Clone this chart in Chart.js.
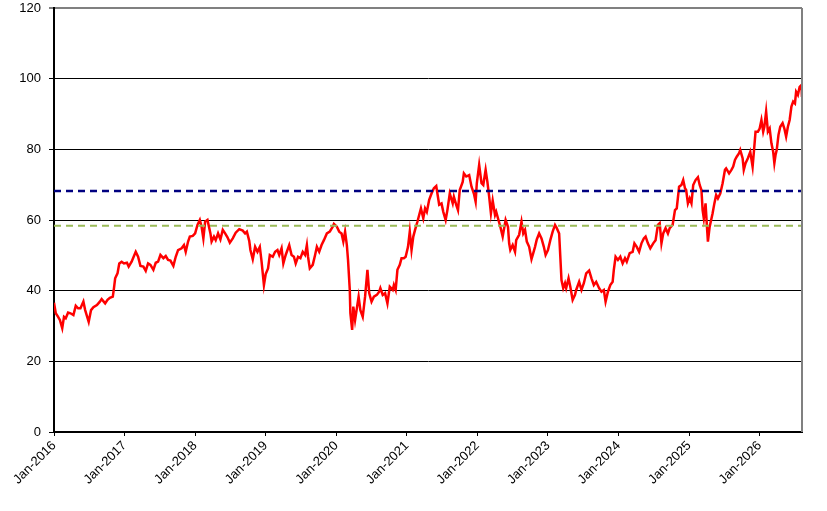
<!DOCTYPE html>
<html>
<head>
<meta charset="utf-8">
<script src="https://cdn.jsdelivr.net/npm/chart.js@4.4.1/dist/chart.umd.min.js"></script>
<style>
  html, body { margin: 0; padding: 0; background: #fff; }
  #chart { display: block; }
</style>
</head>
<body>
<canvas id="chart" width="827" height="511"></canvas>
<script>
// Meses transcurridos desde Jan-2016 (eje X) y valor de la serie
const months = [
  0.0, 0.3, 0.7, 1.0, 1.4, 1.7, 2.0, 2.4, 2.8, 3.3, 3.7, 4.1, 4.5, 5.0, 5.3, 5.9, 6.3, 6.7, 7.3, 7.8,
  8.1, 8.7, 9.1, 9.5, 10.0, 10.2, 10.4, 10.8, 11.1, 11.5, 11.9, 12.4, 12.7, 13.2, 13.6, 13.9, 14.3, 14.7, 15.2, 15.6,
  16.0, 16.4, 16.9, 17.3, 17.7, 18.1, 18.6, 19.0, 19.4, 19.8, 20.3, 20.7, 21.1, 21.7, 22.1, 22.4, 22.8, 23.1, 23.6, 24.0,
  24.4, 24.8, 25.1, 25.4, 25.7, 26.1, 26.6, 26.8, 27.2, 27.5, 27.9, 28.3, 28.7, 29.1, 29.5, 29.9, 30.4, 30.9, 31.5, 32.1,
  32.5, 32.8, 33.2, 33.4, 33.8, 34.2, 34.6, 35.0, 35.3, 35.7, 36.0, 36.4, 36.7, 37.2, 37.6, 38.0, 38.3, 38.7, 39.0, 39.4,
  40.0, 40.4, 40.8, 41.1, 41.5, 41.9, 42.3, 42.7, 43.0, 43.2, 43.5, 44.0, 44.4, 44.7, 45.1, 45.5, 45.9, 46.4, 46.9, 47.4,
  47.6, 48.1, 48.5, 48.9, 49.2, 49.5, 49.8, 50.0, 50.3, 50.4, 50.7, 50.9, 51.2, 51.5, 51.8, 52.1, 52.5, 52.9, 53.3, 53.6,
  54.0, 54.4, 54.9, 55.3, 55.5, 55.9, 56.3, 56.7, 57.1, 57.6, 57.8, 58.1, 58.4, 58.8, 59.1, 59.5, 59.8, 60.2, 60.5, 60.8,
  61.1, 61.4, 61.8, 62.1, 62.4, 62.8, 63.1, 63.4, 63.8, 64.2, 64.6, 65.0, 65.5, 65.9, 66.2, 66.6, 66.9, 67.3, 67.8, 68.0,
  68.4, 68.7, 69.0, 69.5, 69.7, 70.1, 70.6, 71.0, 71.4, 71.7, 71.9, 72.3, 72.7, 73.0, 73.4, 73.7, 74.0, 74.3, 74.6, 75.0,
  75.2, 75.5, 75.9, 76.3, 76.5, 76.8, 77.2, 77.4, 77.6, 78.0, 78.4, 78.6, 79.1, 79.5, 79.8, 80.1, 80.4, 80.8, 81.2, 81.5,
  81.8, 82.1, 82.5, 82.9, 83.3, 83.6, 84.0, 84.4, 84.8, 85.2, 85.5, 85.9, 86.1, 86.3, 86.6, 86.9, 87.1, 87.5, 87.8, 88.2,
  88.6, 88.8, 89.3, 89.7, 90.1, 90.5, 91.0, 91.4, 91.8, 92.2, 92.7, 93.1, 93.5, 93.8, 94.2, 94.6, 95.0, 95.2, 95.5, 95.9,
  96.3, 96.7, 97.1, 97.4, 97.9, 98.4, 98.7, 99.1, 99.5, 99.9, 100.3, 100.6, 101.0, 101.4, 101.9, 102.3, 102.7, 103.0, 103.3, 103.6,
  104.0, 104.4, 104.7, 105.2, 105.6, 105.9, 106.3, 106.7, 107.0, 107.3, 107.5, 107.8, 108.1, 108.4, 108.7, 109.1, 109.5, 109.8, 110.1, 110.3,
  110.5, 110.8, 111.0, 111.2, 111.5, 112.0, 112.3, 112.6, 112.9, 113.3, 113.7, 114.1, 114.3, 114.8, 115.2, 115.5, 115.8, 116.1, 116.5, 116.7,
  117.1, 117.3, 117.6, 118.0, 118.4, 118.8, 119.0, 119.3, 119.7, 120.0, 120.3, 120.6, 120.8, 121.1, 121.4, 121.7, 122.0, 122.3, 122.5, 122.7,
  122.9, 123.2, 123.5, 123.9, 124.2, 124.5, 124.8, 125.1, 125.4, 125.7, 126.0, 126.2, 126.5, 126.8, 127.1, 127.2
];
const values = [
  36.6, 33.6, 32.6, 31.7, 29.4, 32.6, 32.2, 33.8, 33.6, 33.1, 35.7, 35.0, 35.0, 36.9, 34.5, 31.2, 34.5, 35.3, 35.9, 36.9,
  37.6, 36.4, 37.4, 38.0, 38.3, 40.7, 43.5, 44.9, 47.7, 48.2, 47.7, 47.9, 46.8, 48.2, 49.8, 51.0, 49.6, 47.0, 46.8, 45.6,
  47.7, 47.3, 45.9, 47.9, 48.2, 50.1, 49.2, 49.8, 48.7, 48.5, 47.0, 49.6, 51.5, 52.0, 52.9, 51.0, 53.9, 55.3, 55.5, 56.2,
  58.6, 60.0, 58.1, 54.8, 59.5, 60.0, 56.2, 53.9, 55.3, 54.3, 56.2, 54.5, 57.2, 56.2, 55.1, 53.6, 54.8, 56.4, 57.4, 57.0,
  56.2, 56.7, 54.1, 51.5, 48.9, 52.4, 51.0, 52.4, 48.2, 41.6, 44.7, 46.3, 50.1, 49.6, 51.0, 51.5, 50.1, 52.0, 47.7, 50.1,
  52.9, 50.1, 49.6, 47.7, 49.6, 49.2, 51.0, 50.1, 52.9, 49.6, 46.3, 47.3, 50.1, 52.4, 51.0, 52.9, 54.3, 56.2, 56.7, 58.1,
  58.9, 58.1, 56.7, 56.2, 53.9, 56.7, 52.9, 48.7, 40.2, 33.6, 28.9, 35.5, 31.7, 35.0, 38.3, 34.5, 32.6, 38.3, 45.9, 39.3,
  36.9, 38.3, 38.8, 39.7, 40.7, 38.8, 39.3, 36.4, 41.1, 40.2, 41.6, 40.2, 45.9, 47.3, 49.2, 49.2, 49.6, 52.4, 56.7, 51.5,
  55.3, 57.2, 59.5, 61.4, 63.3, 60.5, 63.3, 62.3, 65.7, 67.5, 69.0, 69.6, 64.3, 64.7, 62.3, 60.0, 62.8, 67.5, 64.7, 66.6,
  64.3, 62.8, 68.5, 70.8, 73.2, 72.3, 72.7, 69.4, 67.5, 65.2, 70.4, 75.6, 70.4, 69.9, 74.2, 70.8, 66.6, 61.9, 65.5, 61.4,
  62.3, 60.5, 58.1, 55.3, 57.2, 60.0, 58.1, 53.4, 51.5, 52.9, 51.0, 54.3, 55.8, 59.5, 56.2, 57.2, 53.9, 52.4, 48.9, 50.6,
  52.4, 54.5, 56.2, 54.8, 52.4, 50.1, 51.5, 54.3, 56.7, 58.6, 57.7, 56.2, 49.6, 43.0, 40.7, 42.1, 40.7, 43.5, 41.1, 37.4,
  38.8, 40.2, 42.5, 40.2, 42.1, 44.9, 45.7, 43.5, 41.6, 42.5, 40.7, 39.7, 40.2, 36.9, 39.7, 41.6, 42.5, 45.9, 49.6, 48.7,
  49.6, 47.7, 49.2, 48.2, 50.6, 51.0, 53.4, 52.4, 51.0, 53.4, 54.8, 55.3, 53.4, 52.0, 53.4, 54.3, 58.6, 59.1, 53.4, 56.2,
  57.7, 56.2, 57.7, 58.6, 62.8, 63.3, 69.4, 69.9, 71.3, 69.0, 68.5, 64.7, 66.1, 64.7, 69.9, 71.3, 72.1, 69.9, 68.5, 62.8,
  60.5, 64.7, 59.1, 53.9, 58.1, 61.9, 64.7, 67.1, 66.1, 67.5, 70.4, 74.2, 74.6, 73.2, 74.2, 75.1, 77.0, 77.9, 78.9, 79.8,
  77.5, 74.2, 76.1, 77.5, 79.3, 75.1, 78.9, 85.0, 85.0, 85.9, 88.3, 85.0, 86.4, 90.7, 85.0, 85.9, 81.7, 79.3, 76.1, 78.4,
  79.8, 84.1, 86.4, 87.4, 85.9, 83.6, 86.4, 88.3, 92.1, 93.5, 93.0, 96.3, 95.4, 97.7, 98.2, 94.8
];

// Niveles de referencia (líneas discontinuas)
const upperLevel = 68.2;
const lowerLevel = 58.4;

// Etiquetas del eje X: un tick por año
const startYear = 2016;
const tickYears = [2016, 2017, 2018, 2019, 2020, 2021, 2022, 2023, 2024, 2025, 2026];
const yTicks = [0, 20, 40, 60, 80, 100, 120];

const xMax = months[months.length - 1];
const series = months.map((m, i) => ({ x: m, y: values[i] }));
const levelLine = (v) => [{ x: 0, y: v }, { x: xMax, y: v }];

// Borde derecho gris del área del gráfico
const frameRight = {
  id: 'frameRight',
  afterDraw(chart) {
    const { ctx, chartArea } = chart;
    ctx.save();
    ctx.strokeStyle = '#808080';
    ctx.lineWidth = 2;
    ctx.beginPath();
    ctx.moveTo(chartArea.right, chartArea.top);
    ctx.lineTo(chartArea.right, chartArea.bottom);
    ctx.stroke();
    ctx.restore();
  }
};

const font = { family: '"Liberation Sans", Arial, sans-serif', size: 13 };

new Chart(document.getElementById('chart').getContext('2d'), {
  type: 'line',
  data: {
    datasets: [
      {
        data: levelLine(upperLevel),
        borderColor: '#000080',
        borderWidth: 2.5,
        borderDash: [7, 5],
        pointRadius: 0,
        order: 0
      },
      {
        data: levelLine(lowerLevel),
        borderColor: '#9BBB59',
        borderWidth: 2,
        borderDash: [7, 5],
        pointRadius: 0,
        order: 0
      },
      {
        data: series,
        borderColor: '#FF0000',
        borderWidth: 2.5,
        pointRadius: 0,
        tension: 0,
        order: 1
      }
    ]
  },
  options: {
    responsive: false,
    animation: false,
    layout: { padding: { top: 8, right: 25, left: 0, bottom: 0 } },
    plugins: { legend: { display: false }, tooltip: { enabled: false } },
    scales: {
      x: {
        type: 'linear',
        min: 0,
        max: xMax,
        afterBuildTicks: (scale) => {
          scale.ticks = tickYears.map(y => ({ value: (y - startYear) * 12 }));
        },
        afterFit: (scale) => {
          scale.height = 79;
          scale.paddingLeft = 0;
          scale.paddingRight = 0;
        },
        ticks: {
          font: font,
          color: '#000',
          maxRotation: 45,
          minRotation: 45,
          padding: 2,
          callback: (v) => 'Jan-' + (startYear + v / 12)
        },
        grid: { drawOnChartArea: false, drawTicks: true, tickLength: 4, color: '#000', lineWidth: 1 },
        border: { color: '#000', width: 2 }
      },
      y: {
        min: 0,
        max: 120,
        afterBuildTicks: (scale) => {
          scale.ticks = yTicks.map(v => ({ value: v }));
        },
        afterFit: (scale) => {
          scale.width = 54;
          scale.paddingTop = 0;
          scale.paddingBottom = 0;
        },
        ticks: { font: font, color: '#000', padding: 8 },
        grid: {
          color: (c) => (c.tick && c.tick.value === 120 ? '#808080' : '#000'),
          lineWidth: (c) => (c.tick && c.tick.value === 120 ? 2 : 1),
          tickLength: 5
        },
        border: { color: '#000', width: 2 }
      }
    }
  },
  plugins: [frameRight]
});
</script>
</body>
</html>
